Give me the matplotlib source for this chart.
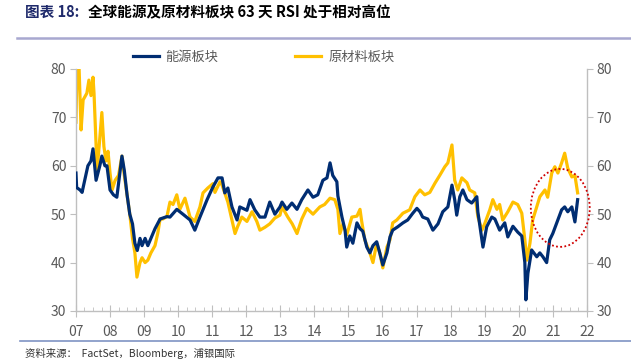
import matplotlib
matplotlib.use("Agg")
import matplotlib.pyplot as plt
from matplotlib.patches import Ellipse
from matplotlib.ticker import MultipleLocator
import numpy as np

plt.rcParams['font.family'] = ['Noto Sans CJK SC', 'DejaVu Sans']

# 能源板块 63天RSI (decimal year, value)
energy_t = [2007.00, 2007.02, 2007.12, 2007.18, 2007.21, 2007.35, 2007.44, 2007.50, 2007.55,
            2007.59, 2007.70, 2007.76, 2007.85, 2007.91, 2008.00, 2008.10, 2008.20, 2008.28,
            2008.35, 2008.42, 2008.50, 2008.58, 2008.66, 2008.73, 2008.80, 2008.88, 2008.94,
            2009.03, 2009.11, 2009.23, 2009.32, 2009.47, 2009.67, 2009.76, 2009.96, 2010.14,
            2010.35, 2010.49, 2010.64, 2010.85, 2011.02, 2011.17, 2011.29, 2011.37, 2011.46,
            2011.58, 2011.73, 2011.81, 2012.02, 2012.11, 2012.25, 2012.40, 2012.55, 2012.69,
            2012.84, 2012.99, 2013.05, 2013.19, 2013.34, 2013.49, 2013.63, 2013.81, 2013.96,
            2014.10, 2014.25, 2014.37, 2014.46, 2014.54, 2014.66, 2014.69, 2014.81, 2014.90,
            2014.95, 2015.04, 2015.13, 2015.25, 2015.34, 2015.42, 2015.54, 2015.63, 2015.72,
            2015.83, 2015.92, 2016.01, 2016.13, 2016.22, 2016.30, 2016.45, 2016.60, 2016.74,
            2016.89, 2017.01, 2017.10, 2017.18, 2017.33, 2017.48, 2017.63, 2017.77, 2017.92,
            2018.04, 2018.12, 2018.18, 2018.27, 2018.36, 2018.48, 2018.62, 2018.77, 2018.80,
            2018.95, 2019.06, 2019.21, 2019.30, 2019.44, 2019.59, 2019.68, 2019.83, 2019.97,
            2020.09, 2020.18, 2020.21, 2020.27, 2020.38, 2020.53, 2020.62, 2020.71, 2020.82,
            2020.91, 2021.00, 2021.15, 2021.26, 2021.35, 2021.44, 2021.56, 2021.65, 2021.73]
energy_v = [58.5, 55.5, 55.0, 54.5, 55.5, 60.0, 61.0, 63.5, 60.0,
            57.0, 60.0, 62.0, 60.0, 60.0, 55.0, 54.0, 53.5, 58.0,
            62.0, 59.0, 54.0, 50.0, 48.0, 44.0, 42.5, 45.0, 43.5,
            45.0, 43.5, 45.5, 47.0, 49.0, 49.5, 49.4, 51.0, 50.0,
            48.8, 46.7, 49.4, 53.0, 55.6, 57.5, 57.5, 54.4, 55.4,
            51.5, 48.8, 51.5, 50.8, 53.0, 50.9, 49.4, 49.4, 52.5,
            50.0, 51.5, 52.5, 51.0, 52.3, 51.0, 53.0, 55.0, 53.5,
            54.0, 57.0, 57.5, 60.6, 58.0, 56.7, 53.8, 49.4, 46.7,
            43.2, 45.5, 44.0, 48.2, 47.0, 46.5, 43.2, 42.0, 43.5,
            44.3, 42.0, 39.5, 42.0, 45.3, 46.7, 47.4, 48.2, 48.8,
            50.2, 51.2, 50.5, 49.4, 49.0, 46.7, 48.0, 50.5, 51.5,
            56.0, 53.0, 49.8, 53.6, 55.0, 53.0, 52.3, 53.6, 50.5,
            43.2, 47.4, 49.4, 49.0, 46.7, 48.2, 45.3, 47.5, 46.3,
            45.5, 40.0, 32.3, 37.8, 42.6, 41.2, 42.0, 41.2, 40.0,
            44.7, 46.0, 48.8, 50.9, 51.5, 50.5, 51.5, 48.4, 53.0]

# 原材料板块 63天RSI
materials_t = [2007.00, 2007.03, 2007.09, 2007.15, 2007.21, 2007.32, 2007.38, 2007.44, 2007.50,
               2007.53, 2007.62, 2007.68, 2007.76, 2007.82, 2007.88, 2007.94, 2008.00, 2008.06,
               2008.15, 2008.25, 2008.35, 2008.42, 2008.50, 2008.58, 2008.66, 2008.73, 2008.79,
               2008.88, 2008.94, 2009.03, 2009.11, 2009.20, 2009.32, 2009.40, 2009.47, 2009.55,
               2009.67, 2009.76, 2009.85, 2009.96, 2010.05, 2010.20, 2010.35, 2010.49, 2010.64,
               2010.73, 2010.87, 2011.02, 2011.08, 2011.23, 2011.29, 2011.46, 2011.58, 2011.67,
               2011.75, 2011.87, 2012.02, 2012.17, 2012.31, 2012.40, 2012.55, 2012.69, 2012.84,
               2012.99, 2013.05, 2013.22, 2013.35, 2013.49, 2013.63, 2013.78, 2013.96, 2014.16,
               2014.30, 2014.46, 2014.60, 2014.69, 2014.75, 2014.84, 2014.95, 2015.10, 2015.25,
               2015.34, 2015.39, 2015.48, 2015.63, 2015.72, 2015.83, 2015.92, 2016.01, 2016.13,
               2016.22, 2016.30, 2016.42, 2016.60, 2016.80, 2016.95, 2017.10, 2017.24, 2017.39,
               2017.54, 2017.68, 2017.83, 2017.92, 2018.04, 2018.12, 2018.21, 2018.33, 2018.48,
               2018.56, 2018.71, 2018.80, 2018.92, 2019.00, 2019.15, 2019.24, 2019.36, 2019.44,
               2019.53, 2019.68, 2019.83, 2019.97, 2020.09, 2020.18, 2020.24, 2020.33, 2020.41,
               2020.53, 2020.62, 2020.77, 2020.85, 2020.97, 2021.06, 2021.15, 2021.26, 2021.35,
               2021.44, 2021.56, 2021.65, 2021.73]
materials_v = [69.0, 81.0, 80.5, 67.4, 73.6, 75.0, 77.7, 74.5, 78.3,
               75.0, 59.0, 64.0, 71.0, 64.0, 61.0, 63.0, 58.5, 55.0,
               57.0, 58.0, 62.0, 58.0, 54.0, 50.0, 45.0, 42.0, 37.0,
               40.0, 41.0, 40.0, 40.5, 42.0, 43.5, 46.0, 49.0, 49.0,
               49.5, 52.5, 52.0, 54.0, 51.0, 53.3, 49.4, 48.5, 51.5,
               54.4, 55.4, 56.3, 54.5, 56.7, 56.0, 52.5, 48.8, 46.0,
               47.5, 49.4, 48.5, 50.5, 48.5, 46.7, 47.3, 48.0, 49.2,
               49.8, 51.5, 49.4, 48.0, 46.0, 49.0, 51.2, 50.0, 51.5,
               52.0, 53.3, 53.0, 51.0, 46.0, 48.0, 45.7, 49.4, 49.6,
               51.0, 48.5, 44.7, 42.0, 40.0, 44.0, 42.0, 38.9, 43.2,
               44.7, 48.2, 48.8, 50.2, 50.9, 53.6, 55.0, 54.0, 54.5,
               56.4, 58.0, 59.8, 60.6, 64.3, 57.0, 55.0, 57.5, 56.5,
               55.0, 54.4, 49.5, 46.7, 48.0, 50.9, 53.0, 51.0, 52.0,
               48.8, 50.5, 52.5, 52.0, 50.2, 44.7, 40.5, 44.0, 48.8,
               51.5, 53.6, 55.0, 53.5, 58.5, 59.8, 58.5, 60.6, 62.6,
               59.5, 57.7, 58.0, 54.4]

year_labels = ['07', '08', '09', '10', '11', '12', '13', '14', '15',
               '16', '17', '18', '19', '20', '21', '22']
title_head = '图表 18:'
title_body = '全球能源及原材料板块 63 天 RSI 处于相对高位'
source_text = '资料来源：  FactSet，Bloomberg，浦银国际'

navy = '#002D72'
gold = '#FFC000'
grey = '#595959'
spine_c = '#BFBFBF'

fig = plt.figure(figsize=(6.31, 3.63), dpi=100)
ax = fig.add_axes([0.1204, 0.1433, 0.8096, 0.6667])

ax.plot(energy_t, energy_v, color=navy, lw=2.3, label='能源板块', zorder=3)
ax.plot(materials_t, materials_v, color=gold, lw=2.3, label='原材料板块', zorder=2)

ax.set_xlim(2007, 2022)
ax.set_ylim(30, 80)
ax.xaxis.set_minor_locator(MultipleLocator(0.25))
ax.set_xticks(np.arange(2007, 2023))
ax.set_xticklabels(year_labels)
ax.yaxis.set_major_locator(MultipleLocator(10))

ax.spines['top'].set_visible(False)
for s in ['left', 'right', 'bottom']:
    ax.spines[s].set_color(spine_c)
    ax.spines[s].set_linewidth(1.0)

ax.tick_params(axis='y', which='both', left=True, right=True, labelleft=True,
               labelright=True, direction='out', length=4, color=spine_c,
               labelsize=10, labelcolor=grey, pad=3)
ax.tick_params(axis='x', which='major', direction='inout', length=8, color=spine_c,
               labelsize=10, labelcolor=grey, pad=6)
ax.tick_params(axis='x', which='minor', direction='in', length=3, color=spine_c)

# 红色虚线圈
circ = Ellipse((2021.22, 51.3), 1.73, 16.1, fill=False, edgecolor='#D00000',
               linestyle=(0, (1, 1.3)), lw=1.3, clip_on=False, zorder=4)
ax.add_patch(circ)

leg = ax.legend(loc='upper center', bbox_to_anchor=(0.367, 1.125), ncol=2, frameon=False,
                fontsize=9.5, handlelength=2.0, columnspacing=5.8, handletextpad=0.5)
for t in leg.get_texts():
    t.set_color(grey)

fig.text(0.04, 0.967, title_head, fontsize=10.5, fontweight='bold', color='#1F2A6B',
         va='center', ha='left')
fig.text(0.139, 0.967, title_body, fontsize=10.5, fontweight='bold', color='black',
         va='center', ha='left')

fig.add_artist(plt.Line2D([0.027, 1.0], [1 - 38 / 363] * 2, color='#A8A8D0', lw=1.8))
fig.add_artist(plt.Line2D([0.032, 1.0], [1 - 341 / 363] * 2, color='#7F93C4', lw=1.2))

fig.text(0.04, 1 - 353 / 363, source_text, fontsize=7.5, color='#333333',
         va='center', ha='left')

fig.savefig('out.png', dpi=100)
